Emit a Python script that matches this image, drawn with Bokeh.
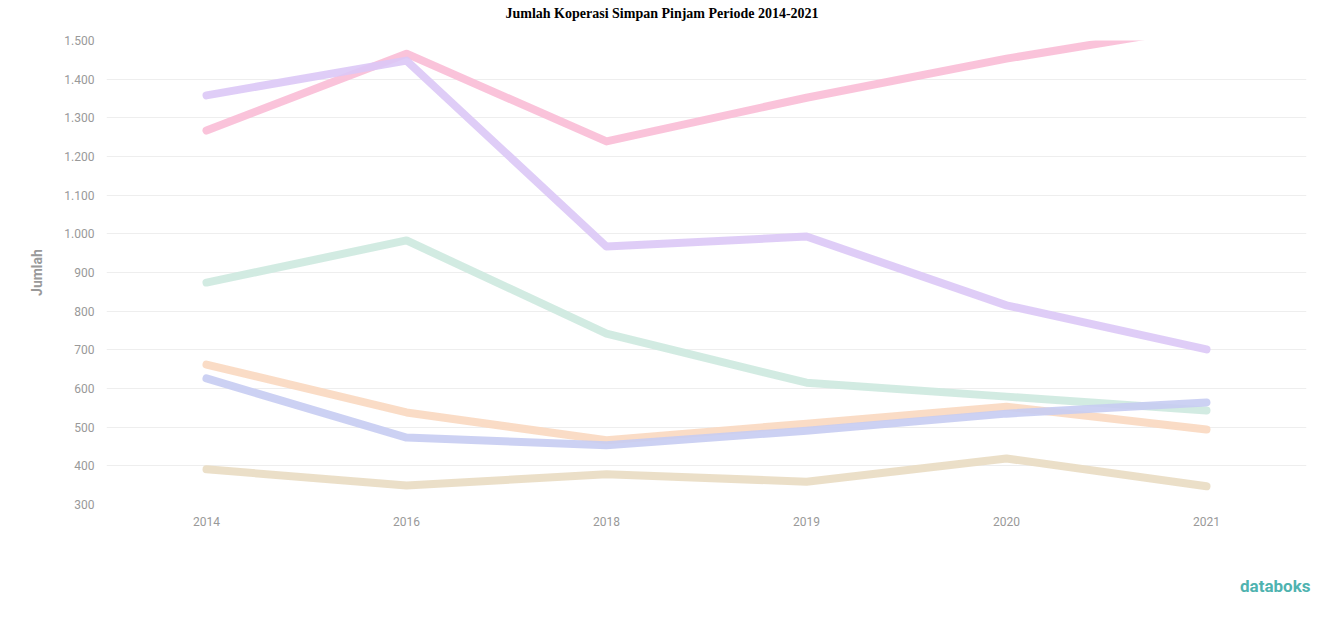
from bokeh.plotting import figure
from bokeh.models import FixedTicker, Range1d, FactorRange, Title
from bokeh.embed import file_html
from bokeh.resources import INLINE

years = ["2014", "2016", "2018", "2019", "2020", "2021"]
series_pink = [1267, 1466, 1239, 1352, 1453, 1538]
series_purple = [1358, 1448, 967, 993, 815, 701]
series_teal = [874, 983, 742, 615, 579, 543]
series_orange = [662, 538, 466, 509, 553, 494]
series_blue = [626, 473, 453, 491, 535, 564]
series_tan = [391, 349, 378, 359, 419, 347]
y_ticks = [300, 400, 500, 600, 700, 800, 900, 1000, 1100, 1200, 1300, 1400, 1500]
y_tick_labels = ["300", "400", "500", "600", "700", "800", "900", "1.000",
                 "1.100", "1.200", "1.300", "1.400", "1.500"]

p = figure(width=1316, height=608, output_backend="svg", toolbar_location=None,
           x_range=FactorRange(*years, range_padding=0), y_range=Range1d(300, 1500),
           min_border_left=106, min_border_right=10, min_border_top=40, min_border_bottom=10)
p.frame_width = 1200
p.frame_height = 464

p.title = Title(text="Jumlah Koperasi Simpan Pinjam Periode 2014-2021\n ",
                align="left", text_font="Liberation Serif", text_font_size="14px",
                text_font_style="bold", text_color="#000000", standoff=4,
                text_line_height=1.2, offset=399)

p.outline_line_color = None
p.background_fill_color = "white"
p.border_fill_color = "white"

p.xgrid.grid_line_color = None
p.ygrid.grid_line_color = "#eeeeee"
p.ygrid.grid_line_width = 1

p.yaxis.ticker = FixedTicker(ticks=y_ticks)
p.yaxis.major_label_overrides = {t: l for t, l in zip(y_ticks, y_tick_labels)}
for ax in (p.xaxis, p.yaxis):
    ax.axis_line_color = None
    ax.major_tick_line_color = None
    ax.minor_tick_line_color = None
    ax.major_label_text_color = "#999999"
    ax.major_label_text_font = "Roboto"
    ax.major_label_text_font_size = "12px"
p.yaxis.major_label_standoff = 6
p.xaxis.major_label_standoff = 6
p.yaxis.axis_label = "Jumlah"
p.yaxis.axis_label_text_font = "Roboto"
p.yaxis.axis_label_text_font_size = "14px"
p.yaxis.axis_label_text_font_style = "bold"
p.yaxis.axis_label_text_color = "#999999"
p.yaxis.axis_label_standoff = 16

colors = ["#f9bcd6", "#dcc8f6", "#cde9df", "#f9d8c0", "#c6ccf2", "#e9dbc2"]
series = [series_pink, series_purple, series_teal, series_orange, series_blue, series_tan]
for s, c in zip(series, colors):
    p.line(years, s, line_color=c, line_width=8, line_alpha=0.9,
           line_join="round", line_cap="round")

logo = Title(text="databoks", align="right", text_color="#4fb3b0",
             text_font="Roboto", text_font_size="17px", text_font_style="bold",
             standoff=91, offset=-4)
p.add_layout(logo, "below")

open("out.html", "w").write(file_html(p, INLINE))
